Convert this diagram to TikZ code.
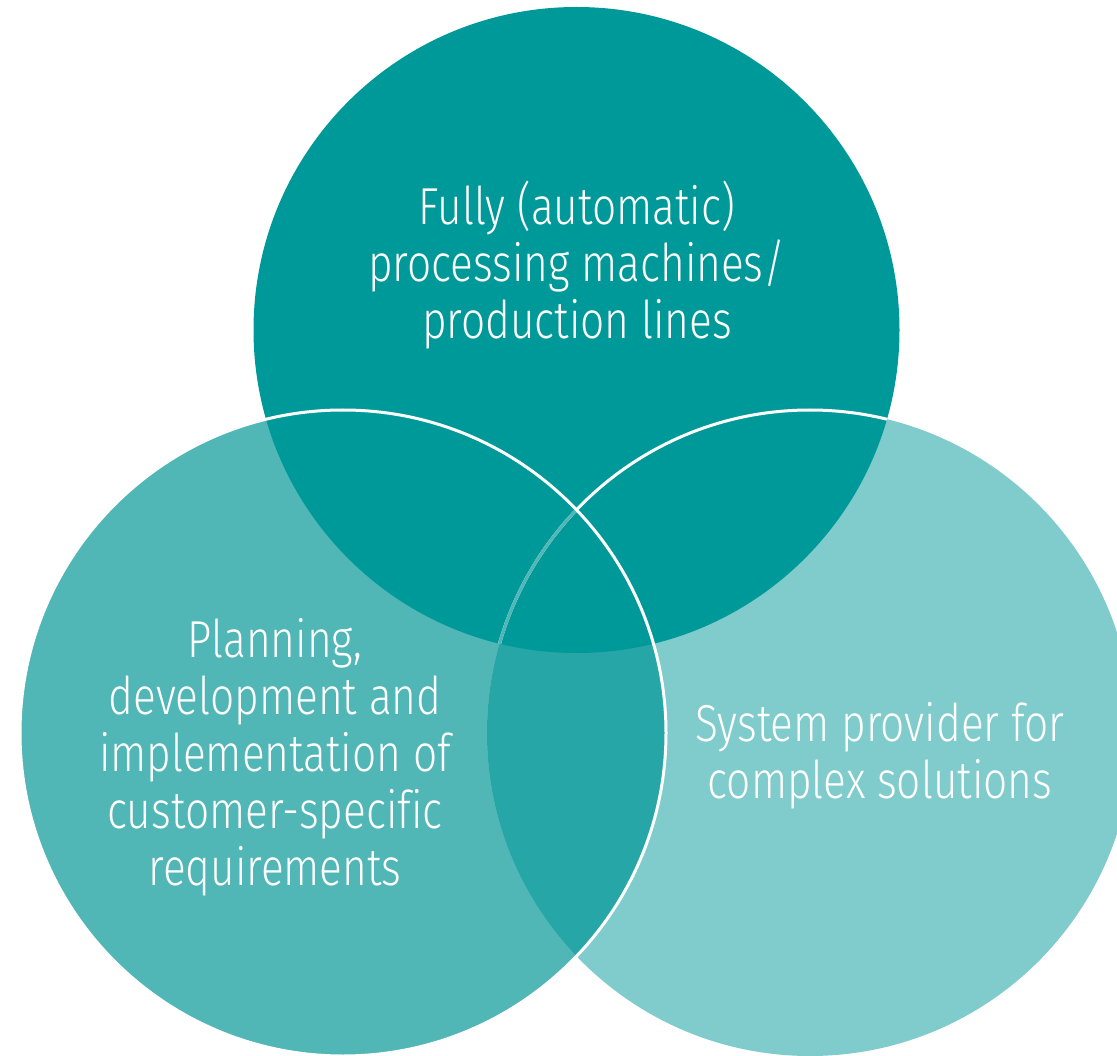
\documentclass[tikz,border=0pt]{standalone}
\usepackage{fontspec}
\setmainfont{Fira Sans Light}[FakeStretch=0.815, Ligatures={NoCommon}]
\definecolor{colT}{RGB}{0,153,153}
\definecolor{colL}{RGB}{80,182,182}
\definecolor{colR}{RGB}{128,203,203}
\definecolor{colM}{RGB}{38,166,166}
\definecolor{colFaint}{RGB}{80,182,182}
\tikzset{
  lbl/.style={text=white, align=center, inner sep=0pt, font=\fontsize{52}{57}\selectfont},
  ring/.style={draw=white, line width=3pt},
}
\begin{document}
\begin{tikzpicture}[x=1pt,y=-1pt]
\useasboundingbox (0,0) rectangle (1117,1056);
\clip (0,0) rectangle (1117,1056);
\coordinate (ct) at (576.5,330);
\coordinate (cl) at (343,733);
\coordinate (cr) at (810,733);
\fill[colL] (cl) circle[radius=323pt];
\fill[colR] (cr) circle[radius=323pt];
\begin{scope}
  \clip (cl) circle[radius=323pt];
  \fill[colM] (cr) circle[radius=323pt];
\end{scope}
\fill[colT] (ct) circle[radius=323pt];
\begin{scope}
  \clip (ct) circle[radius=323pt];
  \draw[ring] (cr) circle[radius=323pt];
  \clip (cl) circle[radius=323pt];
  \draw[draw=colFaint, line width=3pt] (cr) circle[radius=323pt];
\end{scope}
\draw[ring] (cl) circle[radius=323pt];
\node[lbl] (ttop) at (577,265) {Fully (automatic)\\processing machines/\\production lines};
\node[lbl] (tleft) at (275,757) {Planning,\\development and\\implementation of\\customer-specific\\requirements};
\node[lbl] (tright) at (880,756) {System provider for\\complex solutions};
\end{tikzpicture}
\end{document}
